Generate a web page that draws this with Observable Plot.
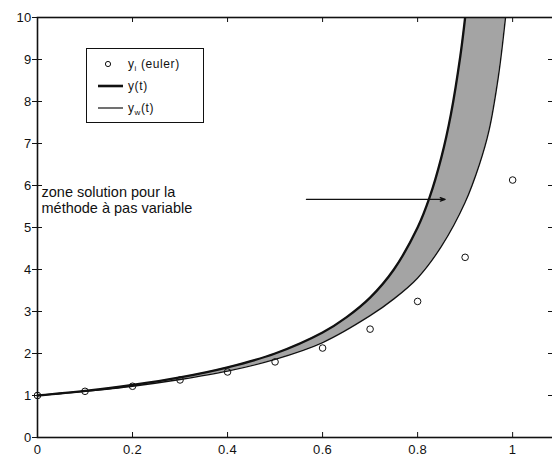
<!DOCTYPE html>
<html>
<head>
<meta charset="utf-8">
<script src="https://cdn.jsdelivr.net/npm/d3@7"></script>
<script src="https://cdn.jsdelivr.net/npm/@observablehq/plot@0.6"></script>
<style>
  html, body { margin: 0; padding: 0; overflow: hidden; background: white; }
  #wrap { position: relative; width: 556px; height: 457px; }
  g[aria-label="annotation"] text { letter-spacing: 1.2px; }
  g[aria-label="x-axis tick label"] text, g[aria-label="y-axis tick label"] text { letter-spacing: 0.3px; }
  #legend {
    position: absolute; left: 86px; top: 48px; width: 116px; height: 73px;
    border: 1.5px solid #111; background: white;
    font-family: "Liberation Sans", Arial, sans-serif; font-size: 12px; color: #111;
  }
  #legend .row { position: absolute; left: 0; height: 14px; width: 116px; }
  #legend svg { position: absolute; left: 0; top: 0; }
  #legend .lab { position: absolute; left: 41px; top: 0; line-height: 14px; letter-spacing: 0.6px; }
  #legend sub { font-size: 8px; vertical-align: -3px; line-height: 0; }
</style>
</head>
<body>
<div id="wrap"></div>
<script>
// Euler points y_i
const tEuler = [0, 0.1, 0.2, 0.3, 0.4, 0.5, 0.6, 0.7, 0.8, 0.9, 1.0];
const yEuler = [1, 1.10, 1.22, 1.37, 1.56, 1.80, 2.13, 2.58, 3.24, 4.29, 6.13];

// exact solution y(t) (thick curve, left edge of band)
const tExact = [0, 0.1, 0.2, 0.3, 0.4, 0.5, 0.6, 0.65, 0.7, 0.75, 0.8, 0.825, 0.85, 0.87, 0.89, 0.9];
const yExact = [1, 1.11, 1.25, 1.43, 1.67, 2.0, 2.5, 2.86, 3.33, 4.0, 5.0, 5.71, 6.67, 7.69, 9.09, 10.0];

// y_w(t) (thin curve, right edge of band)
const tW = [0, 0.1, 0.2, 0.3, 0.4, 0.5, 0.6, 0.7, 0.75, 0.8, 0.85, 0.9, 0.93, 0.95, 0.97, 0.985];
const yW = [1, 1.1, 1.22, 1.38, 1.58, 1.86, 2.26, 2.9, 3.3, 3.8, 4.55, 5.6, 6.5, 7.3, 8.6, 10.0];

// tick labels
const xTicks = [0, 0.2, 0.4, 0.6, 0.8, 1];
const yTicks = [0, 1, 2, 3, 4, 5, 6, 7, 8, 9, 10];

// annotation
const annotationText = ["zone solution pour la\nméthode à pas variable"];
const arrowSpec = [{x1: 0.566, x2: 0.858, y: 5.67}];

const yTop = 10;
const euler = tEuler.map((t, i) => ({t, y: yEuler[i]}));
const exact = tExact.map((t, i) => ({t, y: yExact[i]}));
const wcurve = tW.map((t, i) => ({t, y: yW[i]}));

const ink = "#111";
const font = "Liberation Sans, Arial, sans-serif";

const chart = Plot.plot({
  width: 556,
  height: 457,
  marginLeft: 37,
  marginRight: 3,
  marginTop: 17,
  marginBottom: 20,
  style: {maxWidth: "none", fontFamily: font, background: "white", color: ink},
  x: {domain: [0, 1.086], label: null},
  y: {domain: [0, 10], label: null},
  marks: [
    // band: grey above y_w(t), then white above y(t) -> grey only between the two curves
    Plot.areaY(wcurve, {x: "t", y1: "y", y2: yTop, fill: "#a4a4a4", curve: "catmull-rom", clip: true}),
    Plot.areaY(exact, {x: "t", y1: "y", y2: yTop, fill: "white", curve: "catmull-rom", clip: true}),
    Plot.line(wcurve, {x: "t", y: "y", stroke: ink, strokeWidth: 1.4, curve: "catmull-rom", clip: true}),
    Plot.line(exact, {x: "t", y: "y", stroke: ink, strokeWidth: 2.3, curve: "catmull-rom", clip: true}),
    Plot.dot(euler, {x: "t", y: "y", r: 3.3, stroke: ink, strokeWidth: 1, fill: "none"}),
    Plot.arrow(arrowSpec, {x1: "x1", x2: "x2", y1: "y", y2: "y", stroke: ink, strokeWidth: 1.3, headLength: 6, headAngle: 40}),
    Plot.text(annotationText, {text: d => d, frameAnchor: "top-left", dx: 4, dy: 168, textAnchor: "start", lineAnchor: "top", lineHeight: 1.1, fontSize: 14.5, fill: ink, ariaLabel: "annotation"}),
    Plot.axisX(xTicks, {tickSize: 0, tickPadding: 7, fontSize: 13, fill: ink, tickFormat: d => String(d), label: null}),
    Plot.axisY(yTicks, {tickSize: 5, tickPadding: 1, fontSize: 13, fill: ink, stroke: ink, tickFormat: d => String(d), label: null}),
    // inward ticks on the four sides
    Plot.ruleX(xTicks, {x: d => d, insetTop: 415, stroke: ink, strokeWidth: 1}),
    Plot.ruleX(xTicks, {x: d => d, insetBottom: 415, stroke: ink, strokeWidth: 1}),
    Plot.ruleY(yTicks, {y: d => d, insetLeft: 511, stroke: ink, strokeWidth: 1}),
    Plot.ruleY(yTicks, {y: d => d, insetRight: 511, stroke: ink, strokeWidth: 1}),
    Plot.frame({stroke: ink, strokeWidth: 1.6})
  ]
});

const wrap = document.getElementById("wrap");
wrap.appendChild(chart);

const legend = document.createElement("div");
legend.id = "legend";
legend.innerHTML = `
  <div class="row" style="top:8px">
    <svg width="40" height="14"><circle cx="21" cy="7" r="2.6" fill="none" stroke="#111" stroke-width="1"/></svg>
    <div class="lab">y<sub>i</sub> (euler)</div>
  </div>
  <div class="row" style="top:30px">
    <svg width="40" height="14"><line x1="11" x2="36" y1="7" y2="7" stroke="#111" stroke-width="2.6"/></svg>
    <div class="lab">y(t)</div>
  </div>
  <div class="row" style="top:52px">
    <svg width="40" height="14"><line x1="11" x2="36" y1="7" y2="7" stroke="#111" stroke-width="1.2"/></svg>
    <div class="lab">y<sub>w</sub>(t)</div>
  </div>`;
wrap.appendChild(legend);
</script>
</body>
</html>
